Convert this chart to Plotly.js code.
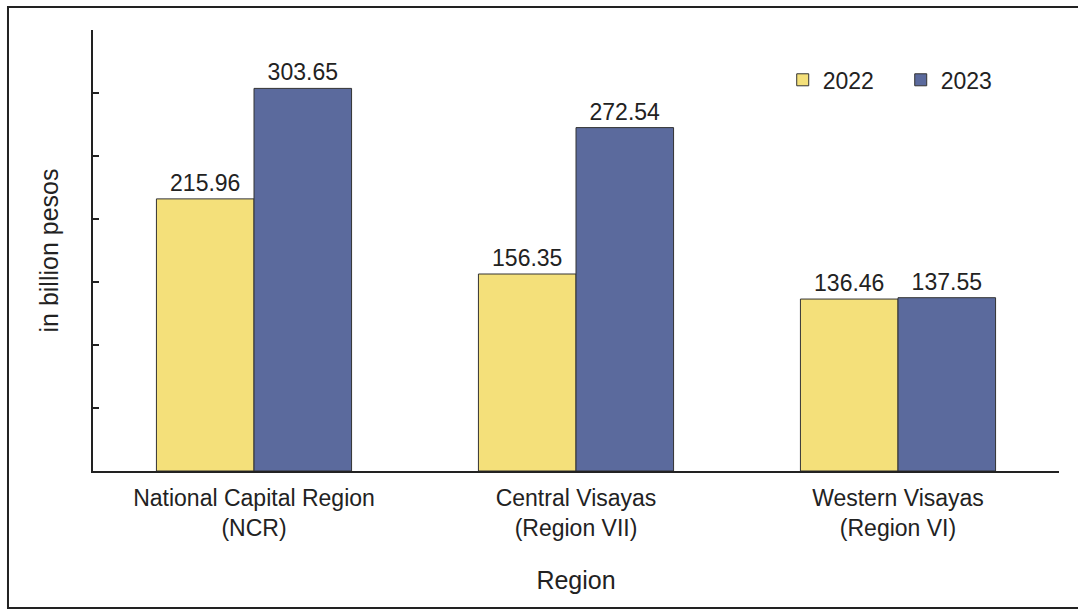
<!DOCTYPE html>
<html>
<head>
<meta charset="utf-8">
<script src="https://cdn.plot.ly/plotly-3.0.1.min.js"></script>
<style>html,body{margin:0;padding:0;background:#fff;}#chart{width:1078px;height:614px;}</style>
</head>
<body>
<div id="chart"></div>
<script>
const categories = ["National Capital Region<br>(NCR)", "Central Visayas<br>(Region VII)", "Western Visayas<br>(Region VI)"];
const values2022 = [215.96, 156.35, 136.46];
const values2023 = [303.65, 272.54, 137.55];
const seriesNames = ["2022", "2023"];

const font = "Liberation Sans, Arial, sans-serif";
const textColor = "#222";

const traces = [
  {
    type: "bar", name: seriesNames[0], x: categories, y: values2022,
    marker: {color: "#F4E07A", line: {color: "#333", width: 1}},
    text: values2022.map(v => v.toFixed(2)), textposition: "outside",
    textfont: {family: font, size: 23, color: textColor}, cliponaxis: false
  },
  {
    type: "bar", name: seriesNames[1], x: categories, y: values2023,
    marker: {color: "#5B6A9D", line: {color: "#333", width: 1}},
    text: values2023.map(v => v.toFixed(2)), textposition: "outside",
    textfont: {family: font, size: 23, color: textColor}, cliponaxis: false
  }
];

const layout = {
  width: 1078, height: 614,
  margin: {l: 93, r: 19, t: 30, b: 143},
  paper_bgcolor: "#fff", plot_bgcolor: "#fff",
  font: {family: font, size: 23, color: textColor},
  barmode: "group", bargap: 0.394, bargroupgap: 0,
  showlegend: true,
  legend: {orientation: "h", x: 0.714, y: 0.887, xanchor: "left", yanchor: "middle",
           entrywidth: 73, entrywidthmode: "pixels",
           font: {family: font, size: 23, color: textColor}, bgcolor: "rgba(0,0,0,0)",
           traceorder: "normal"},
  xaxis: {
    showline: true, linecolor: "#222", linewidth: 2, ticks: "", showgrid: false,
    tickfont: {family: font, size: 23, color: textColor}, ticklabelstandoff: 5,
    title: {text: "Region", font: {family: font, size: 25, color: textColor}, standoff: 32},
    automargin: false
  },
  yaxis: {
    range: [0, 350], tickmode: "linear", tick0: 0, dtick: 50,
    showline: true, linecolor: "#222", linewidth: 2, ticks: "inside", ticklen: 6, tickwidth: 2, tickcolor: "#222",
    showticklabels: false, showgrid: false, zeroline: false,
    title: {text: "in billion pesos", font: {family: font, size: 25, color: textColor}, standoff: 25},
    automargin: false
  },
  shapes: [
    {type: "rect", xref: "paper", yref: "paper", x0: -0.088, x1: 1.03, y0: -0.3107, y1: 1.052,
     line: {color: "#222", width: 2}, fillcolor: "rgba(0,0,0,0)", layer: "below"}
  ]
};

Plotly.newPlot("chart", traces, layout, {displayModeBar: false, staticPlot: true});
</script>
</body>
</html>
